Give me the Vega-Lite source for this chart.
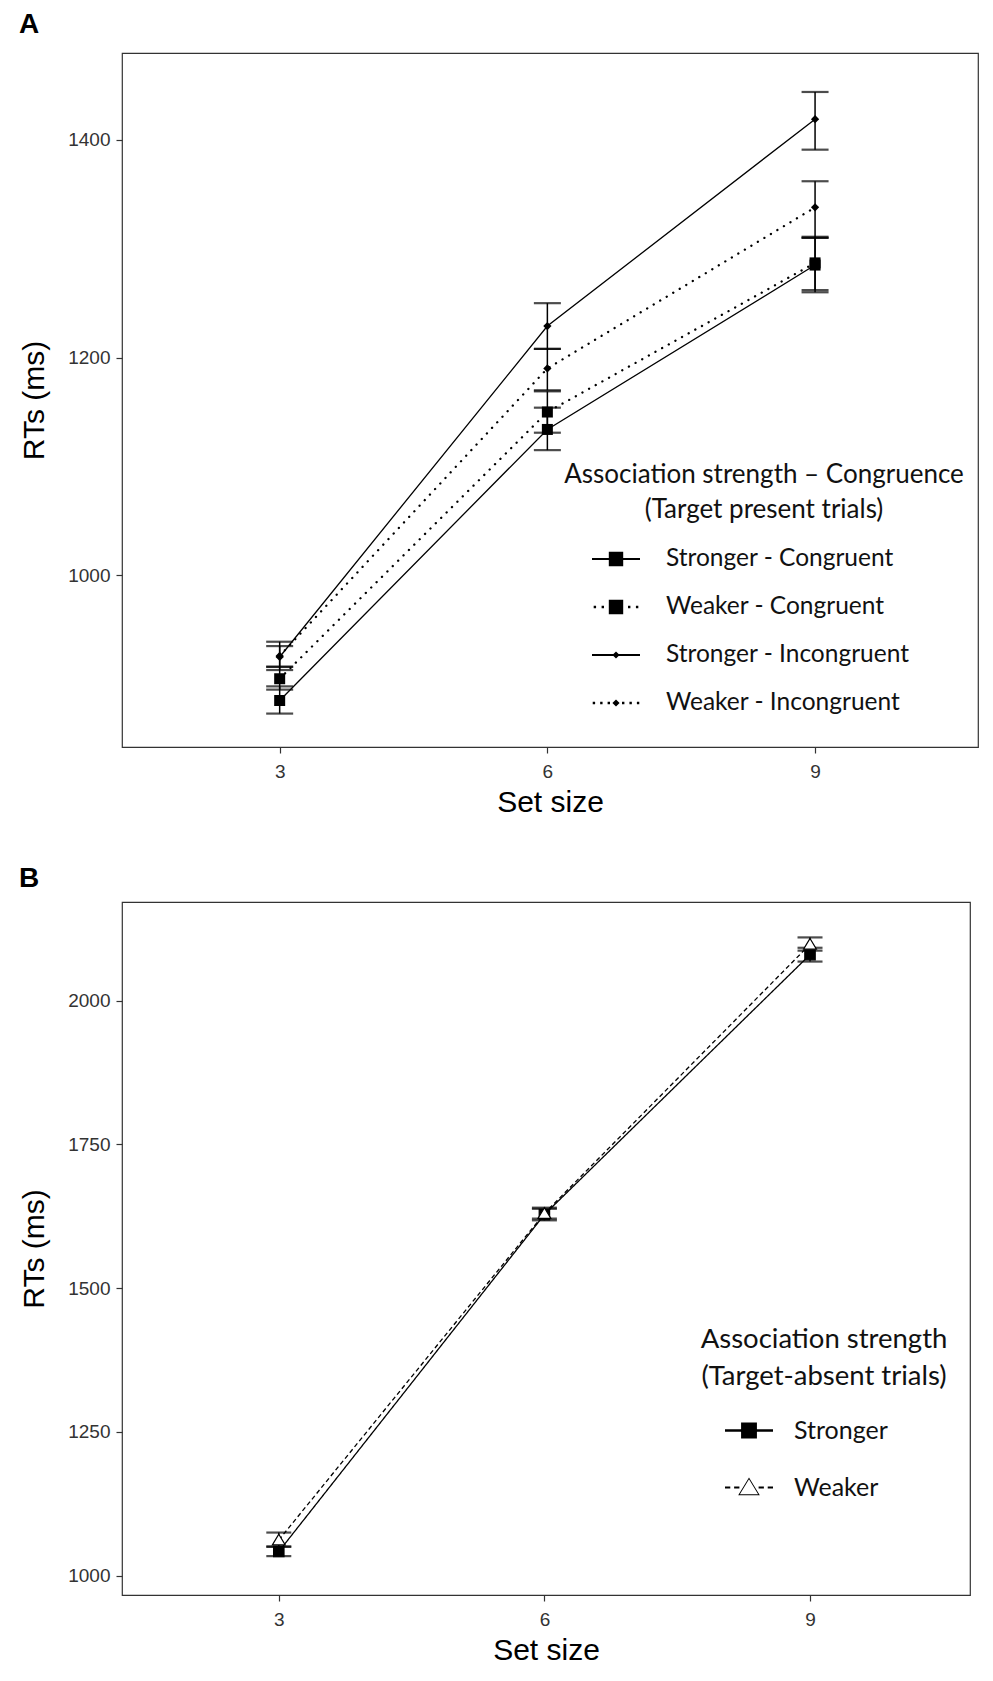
{
  "$schema": "https://vega.github.io/schema/vega-lite/v6.json",
  "background": "white",
  "padding": {"left": 18, "top": 10, "right": 5, "bottom": 5},
  "datasets": {
    "present": [
      {"setSize": 3, "series": "Stronger - Congruent", "rt": 885, "lo": 873, "hi": 898},
      {"setSize": 6, "series": "Stronger - Congruent", "rt": 1134, "lo": 1115, "hi": 1154},
      {"setSize": 9, "series": "Stronger - Congruent", "rt": 1285, "lo": 1260, "hi": 1310},
      {"setSize": 3, "series": "Weaker - Congruent", "rt": 905, "lo": 895, "hi": 916},
      {"setSize": 6, "series": "Weaker - Congruent", "rt": 1150, "lo": 1131, "hi": 1169},
      {"setSize": 9, "series": "Weaker - Congruent", "rt": 1287, "lo": 1262, "hi": 1311},
      {"setSize": 3, "series": "Stronger - Incongruent", "rt": 925, "lo": 913, "hi": 939},
      {"setSize": 6, "series": "Stronger - Incongruent", "rt": 1229, "lo": 1208, "hi": 1250},
      {"setSize": 9, "series": "Stronger - Incongruent", "rt": 1419, "lo": 1391, "hi": 1444},
      {"setSize": 3, "series": "Weaker - Incongruent", "rt": 926, "lo": 916, "hi": 935},
      {"setSize": 6, "series": "Weaker - Incongruent", "rt": 1190, "lo": 1170, "hi": 1208},
      {"setSize": 9, "series": "Weaker - Incongruent", "rt": 1338, "lo": 1310, "hi": 1362}
    ],
    "absent": [
      {"setSize": 3, "series": "Stronger", "rt": 1042, "lo": 1034, "hi": 1051},
      {"setSize": 6, "series": "Stronger", "rt": 1628, "lo": 1618, "hi": 1638},
      {"setSize": 9, "series": "Stronger", "rt": 2080, "lo": 2068, "hi": 2092},
      {"setSize": 3, "series": "Weaker", "rt": 1062, "lo": 1050, "hi": 1075},
      {"setSize": 6, "series": "Weaker", "rt": 1630, "lo": 1621, "hi": 1640},
      {"setSize": 9, "series": "Weaker", "rt": 2098, "lo": 2087, "hi": 2110}
    ]
  },
  "config": {
    "view": {"stroke": "#333333", "strokeWidth": 1.2},
    "axis": {
      "grid": false,
      "domain": false,
      "tickColor": "#333333",
      "tickSize": 6,
      "tickWidth": 1.2,
      "labelFont": "Liberation Sans",
      "labelFontSize": 19,
      "labelColor": "#333333",
      "format": "d",
      "titleFont": "Liberation Sans",
      "titleFontSize": 30,
      "titleFontWeight": "normal",
      "titleColor": "black"
    },
    "axisX": {"labelPadding": 9, "titlePadding": 6},
    "axisY": {"labelPadding": 6, "titlePadding": 18},
    "legend": {
      "titleFont": "Lato",
      "titleFontWeight": "normal",
      "titleColor": "#111111",
      "titleAlign": "center",
      "titleAnchor": "middle",
      "titleLimit": 700,
      "labelFont": "Lato",
      "labelColor": "#111111",
      "labelLimit": 400,
      "padding": 0,
      "symbolSize": 2304,
      "symbolOpacity": 1,
      "symbolStrokeWidth": 0,
      "symbolFillColor": "black"
    },
    "title": {
      "font": "Liberation Sans",
      "fontSize": 28,
      "fontWeight": "bold",
      "color": "black",
      "anchor": "start",
      "frame": "group",
      "baseline": "alphabetic"
    }
  },
  "spacing": 46,
  "vconcat": [
    {
      "width": 856,
      "height": 694,
      "title": {"text": "A", "dx": -103, "offset": 14},
      "data": {"name": "present"},
      "encoding": {
        "x": {
          "field": "setSize",
          "type": "quantitative",
          "title": "Set size",
          "scale": {"domain": [1.233, 10.826], "nice": false, "zero": false},
          "axis": {"values": [3, 6, 9]}
        },
        "y": {
          "field": "rt",
          "type": "quantitative",
          "title": "RTs (ms)",
          "scale": {"domain": [842.3, 1479.8], "nice": false, "zero": false},
          "axis": {"values": [1000, 1200, 1400]}
        }
      },
      "layer": [
        {
          "transform": [{"filter": "indexof(datum.series, 'Stronger') == 0"}],
          "mark": {"type": "line", "color": "black", "strokeWidth": 1.3},
          "encoding": {"detail": {"field": "series", "type": "nominal"}}
        },
        {
          "transform": [{"filter": "indexof(datum.series, 'Weaker') == 0"}],
          "mark": {"type": "line", "color": "black", "strokeWidth": 2.3, "strokeCap": "round", "strokeDash": [0.1, 7.5]},
          "encoding": {"detail": {"field": "series", "type": "nominal"}}
        },
        {
          "mark": {
            "type": "errorbar",
            "ticks": {"size": 27, "thickness": 2.2, "color": "black"},
            "rule": {"strokeWidth": 1.5, "color": "black"}
          },
          "encoding": {
            "y": {
              "field": "lo",
              "type": "quantitative",
              "title": "RTs (ms)",
              "scale": {"domain": [842.3, 1479.8], "nice": false, "zero": false}
            },
            "y2": {"field": "hi"},
            "detail": {"field": "series", "type": "nominal"}
          }
        },
        {
          "mark": {"type": "point", "filled": true, "color": "black", "size": 121, "opacity": 1},
          "encoding": {
            "shape": {
              "field": "series",
              "type": "nominal",
              "scale": {
                "domain": ["Stronger - Congruent", "Weaker - Congruent", "Stronger - Incongruent", "Weaker - Incongruent"],
                "range": ["M-1,-1H1V1H-1Z", "M-1,-1H1V1H-1Z", "M0,-0.75L0.75,0L0,0.75L-0.75,0Z", "M0,-0.75L0.75,0L0,0.75L-0.75,0Z"]
              },
              "legend": null
            }
          }
        },
        {
          "mark": {"type": "point", "filled": true, "color": "black", "opacity": 0},
          "encoding": {
            "shape": {
              "field": "series",
              "type": "nominal",
              "scale": {
                "domain": ["Stronger - Congruent", "Weaker - Congruent", "Stronger - Incongruent", "Weaker - Incongruent"],
                "range": [
                  "M-1,-0.04H1V0.04H-1ZM-0.3,-0.3H0.3V0.3H-0.3Z",
                  "M-0.93,-0.05H-0.83V0.05H-0.93ZM-0.6,-0.05H-0.5V0.05H-0.6ZM0.5,-0.05H0.6V0.05H0.5ZM0.83,-0.05H0.93V0.05H0.83ZM-0.3,-0.3H0.3V0.3H-0.3Z",
                  "M-1,-0.04H1V0.04H-1ZM0,-0.15L0.15,0L0,0.15L-0.15,0Z",
                  "M-0.97,-0.05H-0.87V0.05H-0.97ZM-0.66,-0.05H-0.56V0.05H-0.66ZM-0.35,-0.05H-0.25V0.05H-0.35ZM0.25,-0.05H0.35V0.05H0.25ZM0.56,-0.05H0.66V0.05H0.56ZM0.87,-0.05H0.97V0.05H0.87ZM0,-0.15L0.15,0L0,0.15L-0.15,0Z"
                ]
              },
              "legend": {
                "title": ["Association strength – Congruence", "(Target present trials)"],
                "orient": "none",
                "legendX": 442,
                "legendY": 409,
                "titleFontSize": 26,
                "titleLineHeight": 35,
                "titlePadding": 12,
                "labelFontSize": 24.5,
                "symbolOffset": -27,
                "labelOffset": 26,
                "rowPadding": 12,
                "encode": {
                  "symbols": {
                    "update": {
                      "opacity": {"value": 1},
                      "fill": {"value": "black"},
                      "strokeWidth": {"value": 0}
                    }
                  }
                }
              }
            }
          }
        }
      ],
      "resolve": {"scale": {"shape": "independent"}}
    },
    {
      "width": 848,
      "height": 693,
      "title": {"text": "B", "dx": -103, "offset": 9},
      "data": {"name": "absent"},
      "encoding": {
        "x": {
          "field": "setSize",
          "type": "quantitative",
          "title": "Set size",
          "scale": {"domain": [1.229, 10.807], "nice": false, "zero": false},
          "axis": {"values": [3, 6, 9]}
        },
        "y": {
          "field": "rt",
          "type": "quantitative",
          "title": "RTs (ms)",
          "scale": {"domain": [966.4, 2171.6], "nice": false, "zero": false},
          "axis": {"values": [1000, 1250, 1500, 1750, 2000]}
        }
      },
      "layer": [
        {
          "mark": {"type": "line", "color": "black", "strokeWidth": 1.3},
          "encoding": {
            "strokeDash": {
              "field": "series",
              "type": "nominal",
              "scale": {"domain": ["Stronger", "Weaker"], "range": [[1, 0], [4.5, 3]]},
              "legend": null
            }
          }
        },
        {
          "mark": {
            "type": "errorbar",
            "ticks": {"size": 25, "thickness": 2.2, "color": "black"},
            "rule": {"strokeWidth": 1.5, "color": "black"}
          },
          "encoding": {
            "y": {
              "field": "lo",
              "type": "quantitative",
              "title": "RTs (ms)",
              "scale": {"domain": [966.4, 2171.6], "nice": false, "zero": false}
            },
            "y2": {"field": "hi"},
            "detail": {"field": "series", "type": "nominal"}
          }
        },
        {
          "mark": {"type": "point", "filled": true, "stroke": "black", "strokeWidth": 1.2, "size": 150, "opacity": 1},
          "encoding": {
            "shape": {
              "field": "series",
              "type": "nominal",
              "scale": {
                "domain": ["Stronger", "Weaker"],
                "range": ["M-0.85,-0.85H0.85V0.85H-0.85Z", "M0,-0.95L1.05,0.8L-1.05,0.8Z"]
              },
              "legend": null
            },
            "fill": {
              "field": "series",
              "type": "nominal",
              "scale": {"domain": ["Stronger", "Weaker"], "range": ["black", "white"]},
              "legend": null
            }
          }
        },
        {
          "mark": {"type": "point", "filled": true, "color": "black", "opacity": 0},
          "encoding": {
            "shape": {
              "field": "series",
              "type": "nominal",
              "scale": {
                "domain": ["Stronger", "Weaker"],
                "range": [
                  "M-1,-0.05H1V0.05H-1ZM-0.33,-0.33H0.33V0.33H-0.33Z",
                  "M-1,-0.04H-0.78V0.04H-1ZM-0.62,-0.04H-0.4V0.04H-0.62ZM0.4,-0.04H0.62V0.04H0.4ZM0.78,-0.04H1V0.04H0.78ZM0,-0.42L0.45,0.32L-0.45,0.32ZM0,-0.34L-0.38,0.28L0.38,0.28Z"
                ]
              },
              "legend": {
                "title": ["Association strength", "(Target-absent trials)"],
                "orient": "none",
                "legendX": 579,
                "legendY": 424,
                "titleFontSize": 27.5,
                "titleLineHeight": 37,
                "titlePadding": 16,
                "labelFontSize": 25,
                "symbolOffset": -35,
                "labelOffset": 21,
                "rowPadding": 20,
                "encode": {
                  "symbols": {
                    "update": {
                      "opacity": {"value": 1},
                      "fill": {"value": "black"},
                      "strokeWidth": {"value": 0}
                    }
                  }
                }
              }
            }
          }
        }
      ],
      "resolve": {"scale": {"shape": "independent"}}
    }
  ]
}
